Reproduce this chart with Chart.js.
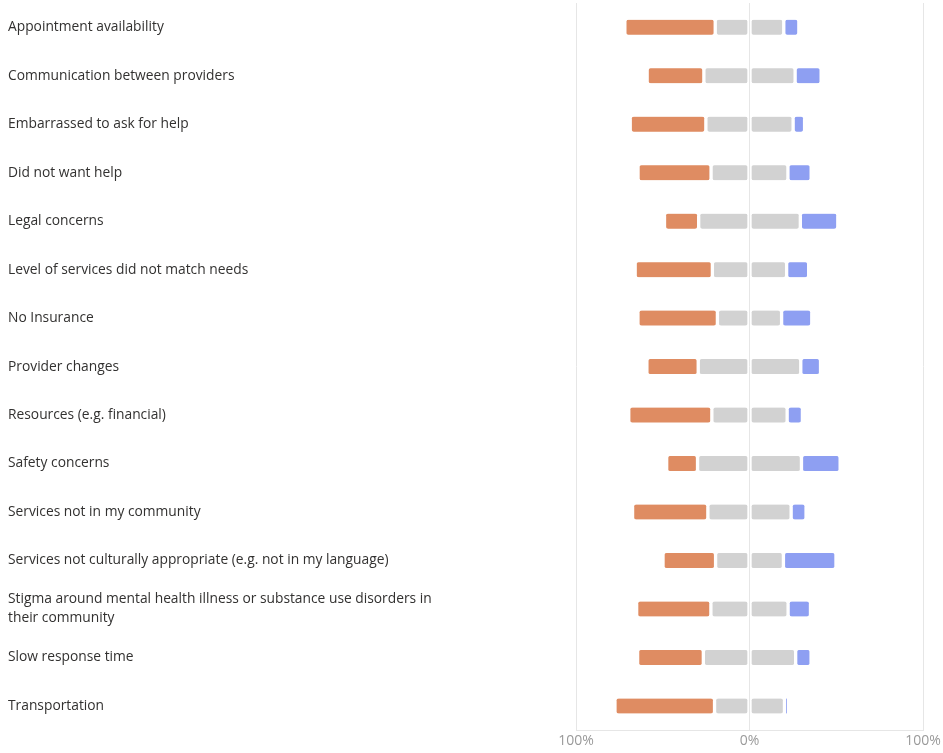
<!DOCTYPE html>
<html>
<head>
<meta charset="utf-8">
<title>Barriers to care</title>
<script src="https://cdn.jsdelivr.net/npm/chart.js@4/dist/chart.umd.min.js"></script>
<style>
  html, body { margin: 0; padding: 0; background: #fff; }
  #wrap { width: 943px; height: 753px; }
</style>
</head>
<body>
<div id="wrap"><canvas id="barriersChart" width="943" height="753"></canvas></div>
<script>
// Categories (y axis)
const categories = [
  'Appointment availability',
  'Communication between providers',
  'Embarrassed to ask for help',
  'Did not want help',
  'Legal concerns',
  'Level of services did not match needs',
  'No Insurance',
  'Provider changes',
  'Resources (e.g. financial)',
  'Safety concerns',
  'Services not in my community',
  'Services not culturally appropriate (e.g. not in my language)',
  ['Stigma around mental health illness or substance use disorders in', 'their community'],
  'Slow response time',
  'Transportation'
];

// Share of responses, percent
const negativeShare = [52.1, 32.7, 43.6, 42.1, 19.7, 44.5, 45.8, 29.6, 47.9, 17.8, 43.4, 30.3, 42.8, 37.9, 57.4];
const neutralShare = [39.5, 52.6, 50.3, 44.3, 58.6, 42.8, 37.0, 59.1, 43.4, 59.9, 48.0, 39.1, 44.5, 53.2, 40.3];
const positiveShare = [8.7, 15.0, 6.6, 13.4, 21.6, 12.7, 17.4, 11.4, 8.8, 22.3, 8.6, 30.3, 12.9, 8.9, 2.4];

// Tick labels for the x axis
const tickLabels = { '-100': '100%', '0': '0%', '100': '100%' };

const FONT = "'Open Sans', 'Noto Sans', sans-serif";

// neutral is split evenly around zero
const neutralLeft = neutralShare.map(v => -v / 2);
const neutralRight = neutralShare.map(v => v / 2);
const negative = negativeShare.map(v => -v);

const barStyle = {
  barThickness: 15,
  borderWidth: { left: 2, right: 2, top: 0, bottom: 0 },
  borderColor: 'rgba(0,0,0,0)',
  borderSkipped: false,
  borderRadius: { topLeft: 4, topRight: 4, bottomLeft: 4, bottomRight: 4 }
};

new Chart(document.getElementById('barriersChart'), {
  type: 'bar',
  data: {
    labels: categories,
    datasets: [
      { label: 'Neutral', data: neutralLeft, backgroundColor: '#d2d2d2', ...barStyle },
      { label: 'Negative', data: negative, backgroundColor: '#df8c62', ...barStyle },
      { label: 'Neutral ', data: neutralRight, backgroundColor: '#d2d2d2', ...barStyle },
      { label: 'Positive', data: positiveShare, backgroundColor: '#8e9ff2', ...barStyle }
    ]
  },
  options: {
    indexAxis: 'y',
    responsive: false,
    animation: false,
    layout: {
      padding: { left: 8, top: 3, right: 20, bottom: 2 }
    },
    plugins: {
      legend: { display: false },
      tooltip: { enabled: false }
    },
    scales: {
      x: {
        stacked: true,
        min: -100,
        max: 100,
        grid: {
          color: '#e6e6e6',
          drawTicks: false
        },
        border: { display: true, color: '#e6e6e6' },
        ticks: {
          stepSize: 100,
          padding: 2,
          color: '#9a9a9a',
          font: { family: FONT, size: 14 },
          callback: (value) => tickLabels[String(value)] ?? ''
        }
      },
      y: {
        stacked: true,
        grid: { display: false },
        border: { display: false },
        ticks: {
          crossAlign: 'far',
          padding: 0,
          color: '#323130',
          font: { family: FONT, size: 13.8, lineHeight: 1.38 }
        },
        afterFit: (scale) => {
          scale.width = 568;
          // labels may sit at the very top, no extra room needed
          scale.paddingTop = 0;
          scale.paddingBottom = 0;
        }
      }
    }
  }
});
</script>
</body>
</html>
